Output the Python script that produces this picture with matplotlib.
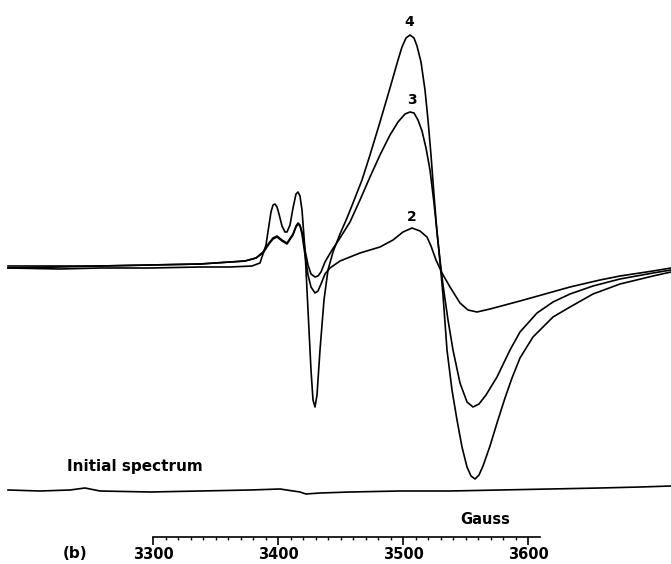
import matplotlib
matplotlib.use("Agg")
import matplotlib.pyplot as plt
from matplotlib.ticker import MultipleLocator

# ---- data: (field in Gauss, signal in arbitrary units; baseline = 0) ----
curve4 = [(3184.0, 0), (3225.6, -1), (3257.6, 0), (3297.6, 0), (3337.6, 1), (3361.6, 1),
          (3379.2, 2), (3385.6, 5), (3390.4, 23), (3392.8, 43), (3394.4, 56), (3396.0, 63),
          (3397.6, 64), (3399.2, 61), (3400.8, 54), (3403.2, 42), (3405.6, 36), (3407.2, 36),
          (3409.6, 43), (3412.0, 60), (3414.4, 74), (3416.0, 76), (3417.6, 72), (3419.2, 58),
          (3421.6, 18), (3424.0, -42), (3426.4, -102), (3428.0, -132), (3429.6, -139),
          (3431.2, -127), (3433.6, -82), (3436.8, -32), (3440.0, -2), (3444.0, 16),
          (3449.6, 34), (3455.2, 50), (3460.0, 65), (3467.2, 88), (3473.6, 113),
          (3481.6, 146), (3489.6, 180), (3496.0, 208), (3499.2, 221), (3502.4, 230),
          (3505.6, 233), (3508.8, 230), (3511.2, 222), (3514.4, 206), (3517.6, 178),
          (3520.0, 148), (3522.4, 113), (3524.8, 73), (3527.2, 36), (3529.6, 6),
          (3532.0, -27), (3535.2, -82), (3539.2, -122), (3543.2, -152), (3547.2, -179),
          (3551.2, -199), (3554.4, -208), (3557.6, -211), (3560.8, -207), (3564.0, -198),
          (3569.6, -178), (3575.2, -155), (3581.6, -130), (3587.2, -110), (3593.6, -90),
          (3604.0, -69), (3620.0, -49), (3633.6, -39), (3652.0, -26), (3673.6, -16),
          (3700.0, -8), (3714.4, -4)]

curve3 = [(3184.0, 2), (3225.6, 2), (3257.6, 2), (3297.6, 3), (3337.6, 4), (3361.6, 6),
          (3373.6, 7), (3382.4, 10), (3388.0, 16), (3392.8, 25), (3396.0, 30), (3399.2, 32),
          (3403.2, 28), (3407.2, 25), (3412.0, 34), (3414.4, 42), (3416.0, 45), (3417.6, 43),
          (3419.2, 36), (3421.6, 18), (3424.0, 3), (3426.4, -6), (3429.6, -9), (3432.0, -8),
          (3434.4, -4), (3437.6, 6), (3443.2, 18), (3449.6, 30), (3457.6, 46), (3465.6, 68),
          (3473.6, 91), (3481.6, 113), (3489.6, 133), (3496.0, 146), (3501.6, 154),
          (3505.6, 156), (3508.8, 155), (3512.0, 148), (3515.2, 137), (3518.4, 120),
          (3521.6, 98), (3524.8, 65), (3527.2, 36), (3529.6, 8), (3532.0, -17),
          (3536.0, -52), (3540.0, -82), (3545.6, -115), (3551.2, -134), (3556.0, -139),
          (3560.8, -136), (3566.4, -127), (3575.2, -109), (3585.6, -82), (3593.6, -64),
          (3607.2, -45), (3620.0, -34), (3633.6, -26), (3652.0, -18), (3673.6, -11),
          (3700.0, -5), (3714.4, -2)]

curve2 = [(3184.0, 0), (3225.6, 1), (3257.6, 2), (3297.6, 3), (3337.6, 4), (3361.6, 6),
          (3373.6, 7), (3382.4, 10), (3388.0, 15), (3392.8, 24), (3396.0, 29), (3399.2, 31),
          (3403.2, 27), (3407.2, 24), (3412.0, 33), (3414.4, 41), (3416.0, 44), (3417.6, 42),
          (3419.2, 34), (3421.6, 13), (3424.0, -7), (3426.4, -19), (3429.6, -25),
          (3432.0, -23), (3434.4, -16), (3437.6, -6), (3441.6, 0), (3449.6, 7), (3457.6, 11),
          (3465.6, 15), (3473.6, 18), (3481.6, 21), (3492.0, 28), (3500.0, 36), (3507.2, 40),
          (3513.6, 37), (3519.2, 31), (3522.4, 22), (3526.4, 8), (3531.2, -5), (3537.6, -19),
          (3545.6, -35), (3552.0, -42), (3559.2, -44), (3569.6, -41), (3581.6, -37),
          (3593.6, -33), (3613.6, -26), (3633.6, -19), (3657.6, -12), (3673.6, -8),
          (3700.0, -3), (3714.4, 0)]

initial = [(3184.0, -222), (3209.6, -223), (3233.6, -222), (3245.6, -220), (3257.6, -223),
           (3297.6, -224), (3337.6, -223), (3377.6, -222), (3401.6, -221), (3417.6, -224),
           (3422.4, -226), (3433.6, -225), (3457.6, -224), (3497.6, -223), (3537.6, -223),
           (3577.6, -222), (3617.6, -221), (3657.6, -220), (3689.6, -219), (3714.4, -218)]

peak_labels = ["4", "3", "2"]
peak_label_field = [3504.8, 3507.2, 3507.2]
peak_label_signal = [246, 168, 51]

axis_major_ticks = [3300, 3400, 3500, 3600]

# ---- figure ----
W, H = 671, 564
fig = plt.figure(figsize=(W / 100, H / 100), dpi=100)
ax = fig.add_axes([0, 0, 1, 1])
ax.set_xlim(3177.6, 3714.4)
ax.set_ylim(-296, 268)
ax.axis("off")

lw = 1.2
for series in (curve4, curve3, curve2, initial):
    xs, ys = zip(*series)
    ax.plot(xs, ys, color="black", lw=lw, solid_joinstyle="round")

font = dict(family="DejaVu Sans", fontweight="bold", color="black")
for lab, fx, fy in zip(peak_labels, peak_label_field, peak_label_signal):
    ax.text(fx, fy, lab, ha="center", va="center", fontsize=10, **font)

fig.text(67 / W, 1 - 467 / H, "Initial spectrum", ha="left", va="center",
         fontsize=11, **font)

# ---- field axis ----
x_left = 153 / W
x_right = 540 / W
y_axis = 1 - 537 / H
ax2 = fig.add_axes([x_left, y_axis, x_right - x_left, 0.0001])
ax2.set_xlim(3300, 3300 + (540 - 153) * 0.8)
for s in ["top", "left", "right"]:
    ax2.spines[s].set_visible(False)
ax2.spines["bottom"].set_linewidth(1.2)
ax2.set_yticks([])
ax2.set_xticks(axis_major_ticks)
ax2.set_xticklabels([str(t) for t in axis_major_ticks])
ax2.xaxis.set_minor_locator(MultipleLocator(10))
ax2.tick_params(axis="x", which="major", direction="out", length=5.5, width=1.2,
                pad=2, labelsize=10.5)
ax2.tick_params(axis="x", which="minor", direction="out", length=2.4, width=1.0)
for t in ax2.get_xticklabels():
    t.set_fontweight("bold")
    t.set_family("DejaVu Sans")
ax2.patch.set_visible(False)

fig.text(485 / W, 1 - 520 / H, "Gauss", ha="center", va="center", fontsize=10.5, **font)
fig.text(75 / W, 1 - 554 / H, "(b)", ha="center", va="center", fontsize=11, **font)

fig.savefig("out.png", dpi=100)
